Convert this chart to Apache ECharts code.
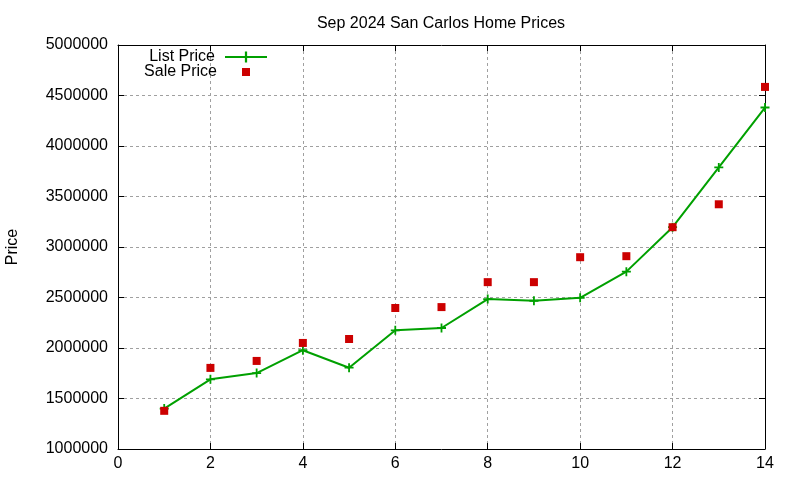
<!DOCTYPE html>
<html>
<head>
<meta charset="utf-8">
<title>Sep 2024 San Carlos Home Prices</title>
<script src="https://cdn.jsdelivr.net/npm/echarts@6/dist/echarts.min.js"></script>
<style>
  html, body { margin: 0; padding: 0; background: #fff; }
  #chart { width: 800px; height: 480px; }
</style>
</head>
<body>
<div id="chart"></div>
<script>
// data
var homes = [1, 2, 3, 4, 5, 6, 7, 8, 9, 10, 11, 12, 13, 14]
var listPrice = [1400000, 1690000, 1752000, 1978000, 1805000, 2175000, 2198000,
  2484000, 2468000, 2497000, 2756000, 3196000, 3788000, 4381000]
var salePrice = [1378000, 1803000, 1872000, 2050000, 2089000, 2396000, 2405000,
  2652000, 2652000, 2899000, 2909000, 3196000, 3423000, 4585000]

var font = 'Liberation Sans, Arial, sans-serif'
var plus = 'path://M4,0 L6,0 L6,4 L10,4 L10,6 L6,6 L6,10 L4,10 L4,6 L0,6 L0,4 L4,4 Z'

function pairs(ys) {
  var out = []
  for (var i = 0; i < homes.length; i++) {
    out.push([homes[i], ys[i]])
  }
  return out
}

// gnuplot prints plain integers, no thousands separators
function plain(v) {
  return String(v)
}

var gridLine = {
  show: true,
  lineStyle: { color: '#a0a0a0', type: [3, 3], width: 1 }
}
var frame = { show: true, onZero: false, lineStyle: { color: '#000', width: 1 } }
var ticks = { show: true, inside: true, length: 6, lineStyle: { color: '#000' } }

var chart = echarts.init(document.getElementById('chart'))
chart.setOption({
  animation: false,
  backgroundColor: '#fff',
  textStyle: { fontFamily: font },
  title: {
    text: 'Sep 2024 San Carlos Home Prices',
    left: 436,
    top: 11,
    textAlign: 'center',
    textStyle: { fontFamily: font, fontSize: 16, fontWeight: 'normal', color: '#000' }
  },
  legend: [
    {
      data: ['List Price'],
      right: 527,
      top: 44,
      align: 'right',
      itemWidth: 42,
      itemHeight: 14,
      textStyle: { fontFamily: font, fontSize: 16, color: '#000', padding: [0, 5, 0, 0] }
    },
    {
      data: ['Sale Price'],
      right: 545,
      top: 59,
      align: 'right',
      itemWidth: 8,
      itemHeight: 8,
      textStyle: { fontFamily: font, fontSize: 16, color: '#000', padding: [0, 20, 0, 0] }
    }
  ],
  grid: {
    left: 118,
    right: 35,
    top: 45,
    bottom: 31,
    containLabel: false,
    outerBoundsMode: 'none'
  },
  xAxis: [
    {
      type: 'value',
      min: 0,
      max: 14,
      interval: 2,
      axisLine: frame,
      axisTick: ticks,
      splitLine: gridLine,
      axisLabel: { color: '#000', fontSize: 16, fontFamily: font, margin: 7, formatter: plain }
    },
    {
      type: 'value',
      position: 'top',
      min: 0,
      max: 14,
      interval: 2,
      axisLine: frame,
      axisTick: ticks,
      splitLine: { show: false },
      axisLabel: { show: false }
    }
  ],
  yAxis: [
    {
      type: 'value',
      min: 1000000,
      max: 5000000,
      interval: 500000,
      name: 'Price',
      nameLocation: 'middle',
      nameRotate: 90,
      nameGap: 97,
      nameTextStyle: { color: '#000', fontSize: 16, fontFamily: font },
      axisLine: frame,
      axisTick: ticks,
      splitLine: gridLine,
      axisLabel: { color: '#000', fontSize: 16, fontFamily: font, margin: 10, formatter: plain }
    },
    {
      type: 'value',
      position: 'right',
      min: 1000000,
      max: 5000000,
      interval: 500000,
      axisLine: frame,
      axisTick: ticks,
      splitLine: { show: false },
      axisLabel: { show: false }
    }
  ],
  series: [
    {
      name: 'List Price',
      type: 'line',
      data: pairs(listPrice),
      symbol: plus,
      symbolSize: 9,
      showAllSymbol: true,
      itemStyle: { color: '#00a000' },
      lineStyle: { color: '#00a000', width: 2 },
      z: 3
    },
    {
      name: 'Sale Price',
      type: 'scatter',
      data: pairs(salePrice),
      symbol: 'rect',
      symbolSize: 8,
      itemStyle: { color: '#cc0000', opacity: 1 },
      z: 4
    }
  ]
})
</script>
</body>
</html>
